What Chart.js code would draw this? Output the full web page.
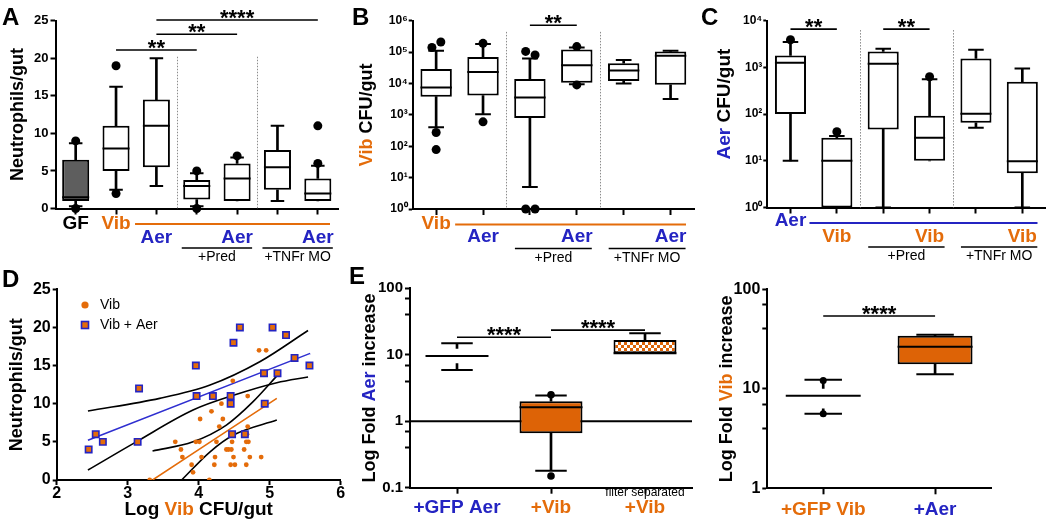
<!DOCTYPE html>
<html>
<head>
<meta charset="utf-8">
<title>Neutrophils and colonisation</title>
<script src="https://cdn.jsdelivr.net/npm/chart.js@4.4.1/dist/chart.umd.min.js"></script>
<style>
  html, body { margin: 0; padding: 0; background: #fff; }
  #wrap { position: relative; width: 1050px; height: 522px; overflow: hidden; }
  #wrap canvas { position: absolute; left: 0; top: 0; }
</style>
</head>
<body>
<div id="wrap">
  <canvas id="chartA" width="1050" height="522"></canvas>
  <canvas id="chartB" width="1050" height="522"></canvas>
  <canvas id="chartC" width="1050" height="522"></canvas>
  <canvas id="chartD" width="1050" height="522"></canvas>
  <canvas id="chartE1" width="1050" height="522"></canvas>
  <canvas id="chartE2" width="1050" height="522"></canvas>
</div>
<script>
var ORANGE = '#e46c0a';
var BOXORANGE = '#dd6306';
var BLUE = '#2424c2';
var FONT = '"Liberation Sans", Arial, sans-serif';
var SUP = ['\u2070', '\u00b9', '\u00b2', '\u00b3', '\u2074', '\u2075', '\u2076'];

// ---- A: neutrophils per gut
var catA = ['GF', 'Vib', 'Vib+Aer', 'Vib +Pred', 'Vib+Aer +Pred', 'Vib +TNFr MO', 'Vib+Aer +TNFr MO'];
var minA = [0.3, 2.5, 3, 0.3, 1, 1, 1];
var q1A  = [1, 5, 5.5, 1.2, 1, 2.5, 1];
var medA = [1.5, 8, 11, 3, 4, 5.5, 2];
var q3A  = [6.5, 11, 14.5, 3.8, 6, 7.8, 4];
var maxA = [8.7, 16.2, 20, 4.7, 6.8, 11, 5.7];
var outA = [[0, 9], [0, 0], [1, 19], [1, 2], [3, 5], [3, 0], [4, 7], [6, 11], [6, 6]];
var sigA = [[1, 3, 21.1, '**'], [2, 4, 23.2, '**'], [2, 6, 25.1, '****']];
var rowA1 = ['GF', 'Vib', '', '', '', '', ''];
var rowA2 = ['', '', 'Aer', '', 'Aer', '', 'Aer'];

// ---- B: Vib CFU per gut
var catB = ['Vib', 'Vib+Aer', 'Vib +Pred', 'Vib+Aer +Pred', 'Vib +TNFr MO', 'Vib+Aer +TNFr MO'];
var minB = [400, 1050, 5, 9500, 10000, 3200];
var q1B  = [3800, 4100, 790, 10500, 12000, 9100];
var medB = [7400, 23000, 3600, 38000, 26000, 76000];
var q3B  = [29000, 70000, 14000, 120000, 44000, 105000];
var maxB = [110000, 180000, 62000, 140000, 56000, 110000];
var outB = [[-0.09, 140000], [0.1, 210000], [0, 275], [0, 78], [1, 190000], [1, 600],
            [1.91, 105000], [2.11, 81000], [1.91, 1], [2.11, 1], [3, 150000], [3, 9000]];
var sigB = [[2, 3, 720000, '**']];
var rowB1 = ['Vib', '', '', '', '', ''];
var rowB2 = ['', 'Aer', '', 'Aer', '', 'Aer'];
var tickB = [1, 10, 100, 1000, 10000, 100000, 1000000];

// ---- C: Aer CFU per gut
var catC = ['Aer', 'Aer+Vib', 'Aer +Pred', 'Aer+Vib +Pred', 'Aer +TNFr MO', 'Aer+Vib +TNFr MO'];
var minC = [10, 1, 1, 10, 51, 1];
var q1C  = [100, 1, 47, 10, 65, 5.4];
var medC = [1250, 10, 1200, 31, 102, 9.8];
var q3C  = [1800, 31, 2200, 92, 1550, 490];
var maxC = [3500, 34, 2500, 560, 2400, 950];
var outC = [[0, 3900], [1, 42], [3, 630]];
var sigC = [[0, 1, 6600, '**'], [2, 3, 6600, '**']];
var rowC1 = ['Aer', '', '', '', '', ''];
var rowC2 = ['', 'Vib', '', 'Vib', '', 'Vib'];
var tickC = [1, 10, 100, 1000, 10000];

// ---- D: neutrophils vs log Vib CFU
var vibCfu  = [3.31, 3.67, 3.75, 3.77, 3.90, 3.92, 3.96, 4.01, 4.02, 4.04, 4.15, 4.18, 4.23, 4.22, 4.25, 4.29, 4.32, 4.34, 4.39,
               4.42, 4.46, 4.47, 4.48, 4.49, 4.45, 4.51, 4.64, 4.67, 4.70, 4.69, 4.69, 4.67, 4.68, 4.72, 4.85, 4.95, 4.88];
var vibNeut = [0, 5, 4, 3, 2, 1, 5, 5, 8, 3, 0, 9, 3, 2, 5, 7, 10, 8, 4,
               4, 4, 5, 13, 3, 2, 2, 4, 5, 5, 7, 11, 2, 6, 3, 17, 17, 3];
var mixCfu  = [2.45, 2.55, 2.65, 3.14, 3.16, 3.96, 3.97, 4.20, 4.45, 4.45, 4.47, 4.49, 4.58, 4.65, 4.92, 4.93, 5.04, 5.11, 5.23, 5.35, 5.56];
var mixNeut = [4, 6, 5, 5, 12, 15, 11, 11, 11, 10, 6, 18, 20, 6, 14, 10, 20, 14, 19, 16, 15];
var fitMixX = [2.44, 5.57], fitMixY = [5.2, 16.6];
var hiMixX = [2.44, 3.45, 4.16, 4.86, 5.54], hiMixY = [9.04, 10.7, 12.45, 15.5, 19.6];
var loMixX = [2.44, 3.12, 3.92, 4.49, 5.10, 5.54], loMixY = [1.31, 5.0, 9.17, 11.1, 12.75, 13.5];
var fitVibX = [3.35, 5.10], fitVibY = [0, 10.7];
var hiVibX = [3.35, 3.92, 4.39, 4.77, 5.12], hiVibY = [3.8, 5.0, 7.2, 10.3, 13.85];
var loVibX = [3.76, 4.16, 4.49, 5.10], loVibY = [0, 3.7, 5.9, 7.86];

// ---- E left: fold increase of Aer
var catE1 = ['+GFP Aer', '+Vib', 'filter separated +Vib'];
var minE1 = [5.9, 0.18, 10.5];
var q1E1  = [7.4, 0.66, 10.5];
var medE1 = [9.6, 1.62, 10.5];
var q3E1  = [12.5, 2.0, 16.7];
var maxE1 = [14.9, 2.43, 21];
var outE1 = [[1, 2.5], [1, 0.15]];
var sigE1 = [[0, 1, 18.3, '****'], [1, 2, 23.5, '****']];
var rowE1 = ['+GFP Aer', '+Vib', '+Vib'];

// ---- E right: fold increase of Vib
var catE2 = ['+GFP Vib', '+Aer'];
var minE2 = [5.6, 14];
var q1E2  = [6.3, 17.6];
var medE2 = [8.5, 26.5];
var q3E2  = [10.1, 34.2];
var maxE2 = [12.3, 35];
var outE2 = [[0, 12.1], [0, 5.6]];
var sigE2 = [[0, 1, 54, '****']];
var rowE2 = ['+GFP Vib', '+Aer'];

var W = 1050, H = 522, YW = 40, XH = 30, BP = 0.67;

function pad(area) {
  return { left: area[0] - YW, top: area[1], right: W - area[2], bottom: H - area[3] - XH };
}

function colorOf(t) {
  if (t.indexOf('Aer') >= 0) return BLUE;
  if (t.indexOf('Vib') >= 0) return ORANGE;
  return '#000';
}

function txt(ctx, parts, x, y, font, rot) {
  ctx.save();
  ctx.font = font;
  ctx.textBaseline = 'middle';
  ctx.textAlign = 'left';
  var w = 0;
  parts.forEach(function (p) { w += ctx.measureText(p[0]).width; });
  ctx.translate(x, y);
  if (rot) ctx.rotate(-Math.PI / 2);
  var cx = -w / 2;
  parts.forEach(function (p) {
    ctx.fillStyle = p[1];
    ctx.fillText(p[0], cx, 0);
    cx += ctx.measureText(p[0]).width;
  });
  ctx.restore();
}

function hline(ctx, x0, x1, y, color, width) {
  ctx.strokeStyle = color;
  ctx.lineWidth = width;
  ctx.beginPath();
  ctx.moveTo(x0, y);
  ctx.lineTo(x1, y);
  ctx.stroke();
}

function yScale(opts) {
  var s = {
    min: opts.min, max: opts.max,
    border: { color: '#000', width: 2 },
    grid: { drawOnChartArea: false, tickLength: opts.tickLength || 5, tickWidth: 2, color: '#000' },
    ticks: { color: '#000', padding: opts.padding || 2, font: { family: FONT, size: opts.size, weight: 'bold' } },
    afterFit: function (sc) { sc.width = YW; }
  };
  if (opts.log) {
    s.type = 'logarithmic';
    s.afterBuildTicks = function (sc) { sc.ticks = opts.ticks.map(function (t) { return { value: t[0], major: t[1] }; }); };
    s.ticks.callback = opts.label;
  } else {
    s.type = 'linear';
    s.ticks.stepSize = opts.step;
  }
  return s;
}

function decadeTicks(list) {
  return list.map(function (v) { return [v, true]; });
}

function minorTicks(lo, hi) {
  var out = [];
  for (var d = lo; d < hi * 1.001; d *= 10) {
    for (var m = 1; m <= 9; m++) {
      if (d * m <= hi * 1.001) out.push([d * m, m === 1]);
    }
  }
  return out;
}

function supLabel(v) {
  return '10' + SUP[Math.round(Math.log10(v))];
}

function boxSets(p) {
  var n = p.cats.length;
  function half(c) { return c.chart.scales.x.width / n * BP / 2; }
  function quarter(c) { return half(c) / 2; }
  var pts = { type: 'line', showLine: false, pointStyle: 'line', pointBorderWidth: 2, pointBorderColor: '#000', order: 1 };
  return [
    { type: 'bar', order: 3, grouped: false, categoryPercentage: 1, barPercentage: BP, borderSkipped: false,
      data: p.q1.map(function (v, i) { return [v, p.q3[i]]; }),
      backgroundColor: p.fills, borderColor: '#000', borderWidth: p.borders },
    { type: 'bar', order: 4, grouped: false, categoryPercentage: 1, barThickness: 2, borderWidth: 0,
      data: p.min.map(function (v, i) { return [v, p.q1[i]]; }), backgroundColor: '#000' },
    { type: 'bar', order: 4, grouped: false, categoryPercentage: 1, barThickness: 2, borderWidth: 0,
      data: p.q3.map(function (v, i) { return [v, p.max[i]]; }), backgroundColor: '#000' },
    Object.assign({ data: p.med, pointRadius: half }, pts),
    Object.assign({ data: p.max.map(function (v, i) { return v > p.q3[i] ? v : null; }), pointRadius: quarter }, pts),
    Object.assign({ data: p.min.map(function (v, i) { return v < p.q1[i] ? v : null; }), pointRadius: quarter }, pts),
    { type: 'line', order: 0, xAxisID: 'xo', showLine: false, clip: false,
      data: p.out.map(function (o) { return { x: o[0], y: o[1] }; }),
      pointRadius: p.dot, pointBackgroundColor: '#000', pointBorderWidth: 0 }
  ];
}

function decor(p) {
  return {
    id: 'decor',
    beforeDatasetsDraw: function (chart) {
      var ctx = chart.ctx, a = chart.chartArea, x = chart.scales.x, y = chart.scales.y;
      ctx.save();
      ctx.strokeStyle = '#8c8c8c';
      ctx.lineWidth = 1;
      ctx.setLineDash([1.5, 1.5]);
      (p.seps || []).forEach(function (s) {
        var px = Math.round(x.getPixelForValue(s[0])) + 0.5;
        ctx.beginPath();
        ctx.moveTo(px, y.getPixelForValue(s[1]));
        ctx.lineTo(px, a.bottom);
        ctx.stroke();
      });
      ctx.setLineDash([]);
      if (p.refLine) hline(ctx, a.left, a.right, y.getPixelForValue(p.refLine), '#000', 2);
      ctx.restore();
    },
    afterDraw: function (chart) {
      var ctx = chart.ctx, a = chart.chartArea, x = chart.scales.x, y = chart.scales.y;
      ctx.save();
      p.sig.forEach(function (s) {
        var x0 = x.getPixelForValue(s[0]), x1 = x.getPixelForValue(s[1]), py = y.getPixelForValue(s[2]);
        hline(ctx, x0, x1, py, '#000', 1.6);
        ctx.fillStyle = '#000';
        ctx.font = 'bold 22px ' + FONT;
        ctx.textAlign = 'center';
        ctx.textBaseline = 'alphabetic';
        ctx.fillText(s[3], (x0 + x1) / 2, py + 5);
      });
      p.rows.forEach(function (r) {
        r[0].forEach(function (t, i) {
          if (t) txt(ctx, [[t, colorOf(t)]], x.getPixelForValue(i), a.bottom + r[1], 'bold 19px ' + FONT);
        });
      });
      if (p.under) {
        hline(ctx, x.getPixelForValue(p.under[0]) + 19, a.right - 8, a.bottom + 15.5, p.under[1], 2);
      }
      (p.groups || []).forEach(function (g) {
        var g0 = x.getPixelForValue(g[0]), g1 = x.getPixelForValue(g[1]);
        hline(ctx, g0 - 15, g1 + 15, a.bottom + 39.5, '#000', 1.5);
        txt(ctx, [[g[2], '#000']], (g0 + g1) / 2, a.bottom + 49, '14px ' + FONT);
      });
      (p.notes || []).forEach(function (nt) {
        txt(ctx, [[nt[1], '#000']], x.getPixelForValue(nt[0]), a.bottom + nt[2], nt[3] + ' ' + FONT);
      });
      var ty = (a.top + a.bottom) / 2 + (p.ytitleShift || 0);
      txt(ctx, p.ytitle, p.ytitleX, ty, 'bold ' + p.ytitleSize + 'px ' + FONT, true);
      if (p.letter) {
        ctx.fillStyle = '#000';
        ctx.font = 'bold 24px ' + FONT;
        ctx.textAlign = 'left';
        ctx.textBaseline = 'alphabetic';
        ctx.fillText(p.letter[0], p.letter[1], p.letter[2]);
      }
      ctx.restore();
    }
  };
}

function boxChart(id, p) {
  return new Chart(document.getElementById(id), {
    type: 'bar',
    data: { labels: p.cats, datasets: boxSets(p) },
    options: {
      responsive: false,
      animation: false,
      devicePixelRatio: 1,
      layout: { padding: pad(p.area) },
      plugins: { legend: { display: false }, tooltip: { enabled: false } },
      scales: {
        x: {
          type: 'category', offset: true, position: 'bottom',
          border: { color: '#000', width: 2 },
          grid: { offset: false, drawOnChartArea: false, tickLength: 6, tickWidth: 2, color: '#000' },
          ticks: { display: false },
          afterFit: function (sc) { sc.height = XH; }
        },
        // invisible linear twin of the category axis, used to place the outlier dots
        xo: {
          type: 'linear', position: 'bottom', offset: false, min: -0.5, max: p.cats.length - 0.5,
          border: { display: false }, grid: { display: false, offset: false }, ticks: { display: false },
          afterFit: function (sc) { sc.height = 0; }
        },
        y: p.y
      }
    },
    plugins: [decor(p)]
  });
}

var white = '#ffffff';

boxChart('chartA', {
  cats: catA, min: minA, q1: q1A, med: medA, q3: q3A, max: maxA, out: outA, dot: 4.5,
  fills: ['#5e5e5e', white, white, white, white, white, white], borders: 2,
  area: [55.5, 20.7, 338, 208.5],
  y: yScale({ min: 0, max: 25, step: 5, size: 13 }),
  sig: sigA, seps: [[2.5, 20.2], [4.5, 20.2]],
  rows: [[rowA1, 15.5], [rowA2, 29.5]], under: [1, ORANGE],
  groups: [[3, 4, '+Pred'], [5, 6, '+TNFr MO']],
  ytitle: [['Neutrophils/gut', '#000']], ytitleX: 18.5, ytitleSize: 18,
  letter: ['A', 2, 25]
});

boxChart('chartB', {
  cats: catB, min: minB, q1: q1B, med: medB, q3: q3B, max: maxB, out: outB, dot: 4.5,
  fills: white, borders: 2,
  area: [412.7, 20.7, 694, 209],
  y: yScale({ log: true, min: 1, max: 1e6, ticks: decadeTicks(tickB), label: supLabel, size: 12, tickLength: 4, padding: 1 }),
  sig: sigB, seps: [[1.5, 440000], [3.5, 440000]],
  rows: [[rowB1, 15], [rowB2, 28]], under: [0, ORANGE],
  groups: [[2, 3, '+Pred'], [4, 5, '+TNFr MO']],
  ytitle: [['Vib', ORANGE], [' CFU/gut', '#000']], ytitleX: 366.7, ytitleSize: 18,
  letter: ['B', 352, 25]
});

boxChart('chartC', {
  cats: catC, min: minC, q1: q1C, med: medC, q3: q3C, max: maxC, out: outC, dot: 4.5,
  fills: white, borders: 2,
  area: [767.3, 20.7, 1048, 207.5],
  y: yScale({ log: true, min: 1, max: 1e4, ticks: decadeTicks(tickC), label: supLabel, size: 12, tickLength: 4, padding: 1 }),
  sig: sigC, seps: [[1.5, 6300], [3.5, 6300]],
  rows: [[rowC1, 13.5], [rowC2, 29.5]], under: [0, BLUE],
  groups: [[2, 3, '+Pred'], [4, 5, '+TNFr MO']],
  ytitle: [['Aer', BLUE], [' CFU/gut', '#000']], ytitleX: 725, ytitleSize: 19, ytitleShift: -10,
  letter: ['C', 701, 25]
});

var ctxE1 = document.getElementById('chartE1').getContext('2d');
var tile = document.createElement('canvas');
tile.width = 6; tile.height = 6;
var tg = tile.getContext('2d');
tg.fillStyle = '#fff'; tg.fillRect(0, 0, 6, 6);
tg.fillStyle = BOXORANGE; tg.fillRect(0, 0, 3, 3); tg.fillRect(3, 3, 3, 3);
var checker = ctxE1.createPattern(tile, 'repeat');

function decadeLabel(v, i, ticks) {
  return ticks[i].major ? String(v) : '';
}

boxChart('chartE1', {
  cats: catE1, min: minE1, q1: q1E1, med: medE1, q3: q3E1, max: maxE1, out: outE1, dot: 3.8,
  fills: ['rgba(0,0,0,0)', BOXORANGE, checker], borders: [0, 2, 2],
  area: [410, 288.3, 692, 487.7],
  y: yScale({ log: true, min: 0.1, max: 100, ticks: minorTicks(0.1, 100), label: decadeLabel, size: 15, tickLength: 5, padding: 0 }),
  sig: sigE1, refLine: 1,
  rows: [[rowE1, 20.5]],
  notes: [[2, 'filter separated', 4.5, '12px']],
  ytitle: [['Log Fold ', '#000'], ['Aer', BLUE], [' increase', '#000']], ytitleX: 370, ytitleSize: 18,
  letter: ['E', 349, 284]
});

boxChart('chartE2', {
  cats: catE2, min: minE2, q1: q1E2, med: medE2, q3: q3E2, max: maxE2, out: outE2, dot: 3.5,
  fills: ['rgba(0,0,0,0)', BOXORANGE], borders: [0, 2],
  area: [767.3, 289.3, 991, 488.3],
  y: yScale({ log: true, min: 1, max: 100, ticks: minorTicks(1, 100), label: decadeLabel, size: 16, tickLength: 5, padding: 0 }),
  sig: sigE2,
  rows: [[rowE2, 21.7]],
  ytitle: [['Log Fold ', '#000'], ['Vib', ORANGE], [' increase', '#000']], ytitleX: 726.7, ytitleSize: 18
});

// ---- D scatter with regressions
function xy(xs, ys) {
  return xs.map(function (v, i) { return { x: v, y: ys[i] }; });
}
function curve(xs, ys, color) {
  return { data: xy(xs, ys), showLine: true, pointRadius: 0, borderColor: color, borderWidth: 1.6,
           cubicInterpolationMode: 'monotone', order: 2 };
}

new Chart(document.getElementById('chartD'), {
  type: 'scatter',
  data: {
    datasets: [
      { data: xy(vibCfu, vibNeut), pointRadius: 2.4, pointBackgroundColor: ORANGE, pointBorderWidth: 0, order: 1 },
      { data: xy(mixCfu, mixNeut), pointStyle: 'rect', pointRadius: 4.5, pointBackgroundColor: ORANGE,
        pointBorderColor: BLUE, pointBorderWidth: 1.6, order: 0 },
      curve(fitMixX, fitMixY, '#2f2fd0'),
      curve(hiMixX, hiMixY, '#000'),
      curve(loMixX, loMixY, '#000'),
      curve(fitVibX, fitVibY, ORANGE),
      curve(hiVibX, hiVibY, '#000'),
      curve(loVibX, loVibY, '#000')
    ]
  },
  options: {
    responsive: false,
    animation: false,
    devicePixelRatio: 1,
    layout: { padding: pad([56.7, 289.3, 340.7, 480]) },
    plugins: { legend: { display: false }, tooltip: { enabled: false } },
    scales: {
      x: {
        type: 'linear', min: 2, max: 6,
        border: { color: '#000', width: 2 },
        grid: { drawOnChartArea: false, tickLength: 5, tickWidth: 2, color: '#000' },
        ticks: { stepSize: 1, color: '#000', padding: -1, font: { family: FONT, size: 16, weight: 'bold' } },
        afterFit: function (sc) { sc.height = XH; }
      },
      y: yScale({ min: 0, max: 25, step: 5, size: 16, tickLength: 4, padding: 0 })
    }
  },
  plugins: [{
    id: 'decorD',
    afterDraw: function (chart) {
      var ctx = chart.ctx, a = chart.chartArea;
      ctx.save();
      ctx.fillStyle = ORANGE;
      ctx.beginPath();
      ctx.arc(85, 305, 3.6, 0, Math.PI * 2);
      ctx.fill();
      ctx.fillRect(81.5, 321.5, 7, 7);
      ctx.strokeStyle = BLUE;
      ctx.lineWidth = 1.6;
      ctx.strokeRect(81.5, 321.5, 7, 7);
      ctx.fillStyle = '#000';
      ctx.font = '14px ' + FONT;
      ctx.textBaseline = 'middle';
      ctx.textAlign = 'left';
      ctx.fillText('Vib', 100, 305);
      ctx.fillText('Vib + Aer', 100, 325);
      txt(ctx, [['Neutrophils/gut', '#000']], 17, (a.top + a.bottom) / 2, 'bold 18px ' + FONT, true);
      txt(ctx, [['Log ', '#000'], ['Vib', ORANGE], [' CFU/gut', '#000']], (a.left + a.right) / 2, 510, 'bold 19px ' + FONT);
      ctx.fillStyle = '#000';
      ctx.font = 'bold 24px ' + FONT;
      ctx.textBaseline = 'alphabetic';
      ctx.fillText('D', 2, 287);
      ctx.restore();
    }
  }]
});
</script>
</body>
</html>
